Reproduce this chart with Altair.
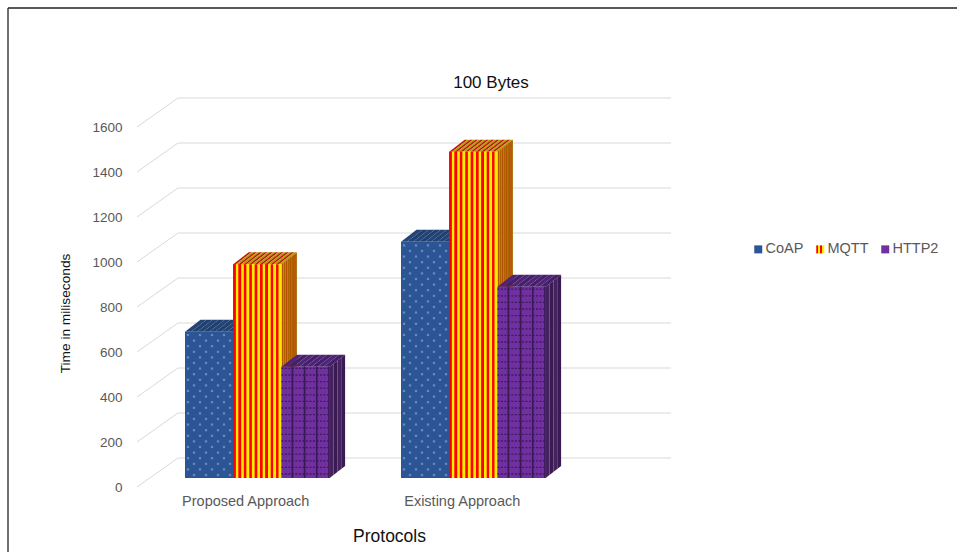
import altair as alt
import pandas as pd

# Measurements shown on the chart
categories = ["Proposed Approach", "Existing Approach"]
protocols = ["CoAP", "MQTT", "HTTP2"]
coap_values = [650, 1050]
mqtt_values = [950, 1450]
http2_values = [495, 850]
value_ticks = [0, 200, 400, 600, 800, 1000, 1200, 1400, 1600]
series = {"CoAP": coap_values, "MQTT": mqtt_values, "HTTP2": http2_values}

# Pseudo-3D geometry, in data units. One category slot spans 1.0 on x.
PX_X = 1 / 216.5          # x units per screen pixel
PX_Y = 1600 / 360         # value units per screen pixel
X_MAX = 534 * PX_X
SLOT_START = [48 * PX_X, 264 * PX_X]
BAR_W = 48.2 * PX_X
BAR_DX = 15.5 * PX_X      # sideways shift of a bar's rear edge
BAR_DY = 12 * PX_Y        # upward shift of a bar's rear edge
BAR_LIFT = 9 * PX_Y       # bar floor sits above the front of the wall
WALL_DX = 41 * PX_X
WALL_DY = 29 * PX_Y

FRONT = {"CoAP": "#2c5596", "HTTP2": "#7030a0"}
# Each shaded face alternates between two tones
TOP = {"CoAP": ("#234477", "#20406f"), "MQTT": ("#c01408", "#b0a000"), "HTTP2": ("#4f2378", "#45206a")}
SIDE = {"CoAP": ("#1f3d6b", "#1f3d6b"), "MQTT": ("#b85200", "#a86400"), "HTTP2": ("#46215f", "#391a52")}
RED = "#ff0000"
YELLOW = "#ffee00"
STRIPES = 18

x_scale = alt.Scale(domain=[0, X_MAX], nice=False, zero=False)
y_scale = alt.Scale(domain=[0, 1600], nice=False, zero=False)

# Every layer carries the same axis definitions so that they merge into one
x_axis = alt.Axis(
    values=[0.5, 1.5],
    labelExpr=f"datum.value < 1 ? '{categories[0]}' : '{categories[1]}'",
    domain=False, ticks=False, grid=False, labelPadding=7, labelFontSize=14.5,
    labelColor="#595959", labelFont="Liberation Sans",
    title="Protocols", titleFontSize=17.5, titleFontWeight="normal", titleColor="#111111",
    titleFont="Liberation Sans", titleX=252, titleY=40,
)
y_axis = alt.Axis(
    values=value_ticks, format="d", domain=False, ticks=False, grid=False, labelPadding=15,
    labelFontSize=13.5, labelColor="#595959", labelFont="Liberation Sans",
    title="Time in miliseconds", titleFontSize=13.7, titleFontWeight="normal",
    titleColor="#111111", titleFont="Liberation Sans", titleX=-65, titleY=186,
)
X_PLAIN = alt.X("x:Q", scale=x_scale, axis=x_axis)
Y_PLAIN = alt.Y("y:Q", scale=y_scale, axis=y_axis, stack=None)


def bar_boxes(protocol):
    """Front-face corners of each bar belonging to one protocol."""
    slot = protocols.index(protocol)
    for start, value in zip(SLOT_START, series[protocol]):
        left = start + slot * BAR_W
        yield left, left + BAR_W, BAR_LIFT, value + BAR_LIFT


def top_layer(protocol):
    rows = []
    for n, (x0, x1, _, ytop) in enumerate(bar_boxes(protocol)):
        count = STRIPES if protocol == "MQTT" else 8
        step = (x1 - x0) / count
        for i in range(count):
            colour = TOP[protocol][i % 2]
            a, b = x0 + i * step, x0 + (i + 1) * step
            rows.append(dict(band=f"{n}-{i}", fill=colour, x=a, x2=b, y=ytop))
            rows.append(dict(band=f"{n}-{i}", fill=colour, x=a + BAR_DX, x2=b + BAR_DX, y=ytop + BAR_DY))
    return alt.Chart(pd.DataFrame(rows)).mark_area(orient="horizontal").encode(
        x=X_PLAIN, x2="x2:Q", y=Y_PLAIN,
        color=alt.Color("fill:N", scale=None), detail="band:N",
    )


def side_layer(protocol):
    rows = []
    for n, (_, x1, ybase, ytop) in enumerate(bar_boxes(protocol)):
        count = 8 if protocol == "MQTT" else 4
        for i in range(count):
            colour = SIDE[protocol][i % 2]
            for k in (i, i + 1):
                f = k / count
                rows.append(dict(band=f"{n}-{i}", fill=colour, x=x1 + f * BAR_DX,
                                 y=ybase + f * BAR_DY, y2=ytop + f * BAR_DY))
    return alt.Chart(pd.DataFrame(rows)).mark_area(orient="vertical").encode(
        x=X_PLAIN, y=Y_PLAIN, y2="y2:Q",
        color=alt.Color("fill:N", scale=None), detail="band:N",
    )


# The legend swatch for MQTT carries two red and yellow stripes
swatch_stripes = (
    "{gradient:'linear',x1:0,y1:0,x2:1,y2:0,stops:["
    "{offset:0,color:'#ff0000'},{offset:0.25,color:'#ff0000'},"
    "{offset:0.25,color:'#ffee00'},{offset:0.5,color:'#ffee00'},"
    "{offset:0.5,color:'#ff0000'},{offset:0.75,color:'#ff0000'},"
    "{offset:0.75,color:'#ffee00'},{offset:1,color:'#ffee00'}]}"
)
colour_scale = alt.Scale(
    domain=protocols,
    range=[FRONT["CoAP"], {"expr": swatch_stripes}, FRONT["HTTP2"]],
)


def front_layer(protocol):
    rows = [dict(protocol=protocol, x=x0, x2=x1, y=y0, y2=y1)
            for x0, x1, y0, y1 in bar_boxes(protocol)]
    return alt.Chart(pd.DataFrame(rows)).mark_rect(strokeWidth=0).encode(
        x=X_PLAIN, x2="x2:Q", y=Y_PLAIN, y2="y2:Q",
        color=alt.Color(
            "protocol:N", scale=colour_scale, sort=protocols,
            legend=alt.Legend(
                title=None, orient="none", direction="horizontal", columns=3,
                legendX=614, legendY=115, symbolType="square", symbolSize=64,
                symbolStrokeWidth=0, labelFontSize=14.5, labelColor="#595959",
                labelFont="Liberation Sans", labelOffset=0, columnPadding=9,
                padding=0,
            ),
        ),
    )


def mqtt_stripes():
    rows = []
    for x0, x1, y0, y1 in bar_boxes("MQTT"):
        step = (x1 - x0) / STRIPES
        rows += [dict(x=x0 + i * step, x2=x0 + (i + 1) * step, y=y0, y2=y1,
                      fill=RED if i % 2 == 0 else YELLOW)
                 for i in range(STRIPES)]
    return alt.Chart(pd.DataFrame(rows)).mark_rect(strokeWidth=0).encode(
        x=X_PLAIN, x2="x2:Q", y=Y_PLAIN, y2="y2:Q",
        color=alt.Color("fill:N", scale=None),
    )


def coap_dots():
    rows = []
    for x0, x1, y0, y1 in bar_boxes("CoAP"):
        row, yy = 0, y0 + 3 * PX_Y
        while yy < y1 - 2 * PX_Y:
            xx = x0 + (3 if row % 2 else 9) * PX_X
            while xx < x1 - 2 * PX_X:
                rows.append(dict(x=xx, y=yy))
                xx += 12 * PX_X
            yy += 5.6 * PX_Y
            row += 1
    return alt.Chart(pd.DataFrame(rows)).mark_square(
        size=5, color="#a9bfe0", opacity=0.5, strokeWidth=0
    ).encode(x=X_PLAIN, y=Y_PLAIN)


def http_grid():
    vertical, horizontal = [], []
    for x0, x1, y0, y1 in bar_boxes("HTTP2"):
        xx = x0 + 11 * PX_X
        while xx < x1:
            vertical.append(dict(x=xx, y=y0, y2=y1))
            xx += 12.2 * PX_X
        yy = y0 + 4 * PX_Y
        while yy < y1:
            horizontal.append(dict(x=x0, x2=x1, y=yy))
            yy += 6.6 * PX_Y
    ink = "#35174f"
    return [
        alt.Chart(pd.DataFrame(vertical)).mark_rule(color=ink, strokeWidth=1.7, opacity=0.9).encode(
            x=X_PLAIN, y=Y_PLAIN, y2="y2:Q"),
        alt.Chart(pd.DataFrame(horizontal)).mark_rule(
            color=ink, strokeWidth=1.3, strokeDash=[2, 1.5], opacity=0.85).encode(
            x=X_PLAIN, x2="x2:Q", y=Y_PLAIN),
    ]


# Floor-to-ceiling gridlines: a short run up the left wall, then along the back wall
wall_rows = []
for tick in value_ticks:
    wall_rows += [
        dict(tick=tick, order=0, x=0, y=tick),
        dict(tick=tick, order=1, x=WALL_DX, y=tick + WALL_DY),
        dict(tick=tick, order=2, x=X_MAX, y=tick + WALL_DY),
    ]
walls = alt.Chart(pd.DataFrame(wall_rows)).mark_line(color="#d9d9d9", strokeWidth=1).encode(
    x=X_PLAIN, y=Y_PLAIN, detail="tick:N", order="order:Q",
)

# Page frame along the top and left edges
frame_top = alt.Chart(pd.DataFrame({"a": [0]})).mark_rule(color="#222222", strokeWidth=1.4).encode(
    x=alt.value(-129), x2=alt.value(820), y=alt.value(-119))
frame_left = alt.Chart(pd.DataFrame({"a": [0]})).mark_rule(color="#333333", strokeWidth=1.4).encode(
    x=alt.value(-129), y=alt.value(-119), y2=alt.value(425))

# Chart heading, set above the back wall
heading = alt.Chart(pd.DataFrame({"label": ["100 Bytes"]})).mark_text(
    fontSize=17, color="#111111", font="Liberation Sans", align="center", baseline="middle"
).encode(text="label:N", x=alt.value(354), y=alt.value(-44))

layers = [frame_top, frame_left, walls, heading]
for name in protocols:
    layers += [top_layer(name), side_layer(name), front_layer(name)]
    if name == "CoAP":
        layers.append(coap_dots())
    elif name == "MQTT":
        layers.append(mqtt_stripes())
    else:
        layers += http_grid()

chart = alt.layer(*layers).properties(
    width=534,
    height=360,
    padding={"left": 137, "top": 127, "right": 286, "bottom": 65},
    autosize=alt.AutoSizeParams(type="none"),
    background="white",
).configure_view(stroke=None).resolve_scale(x="shared", y="shared")

chart.save("out.html", embed_options={"renderer": "svg", "actions": False})
